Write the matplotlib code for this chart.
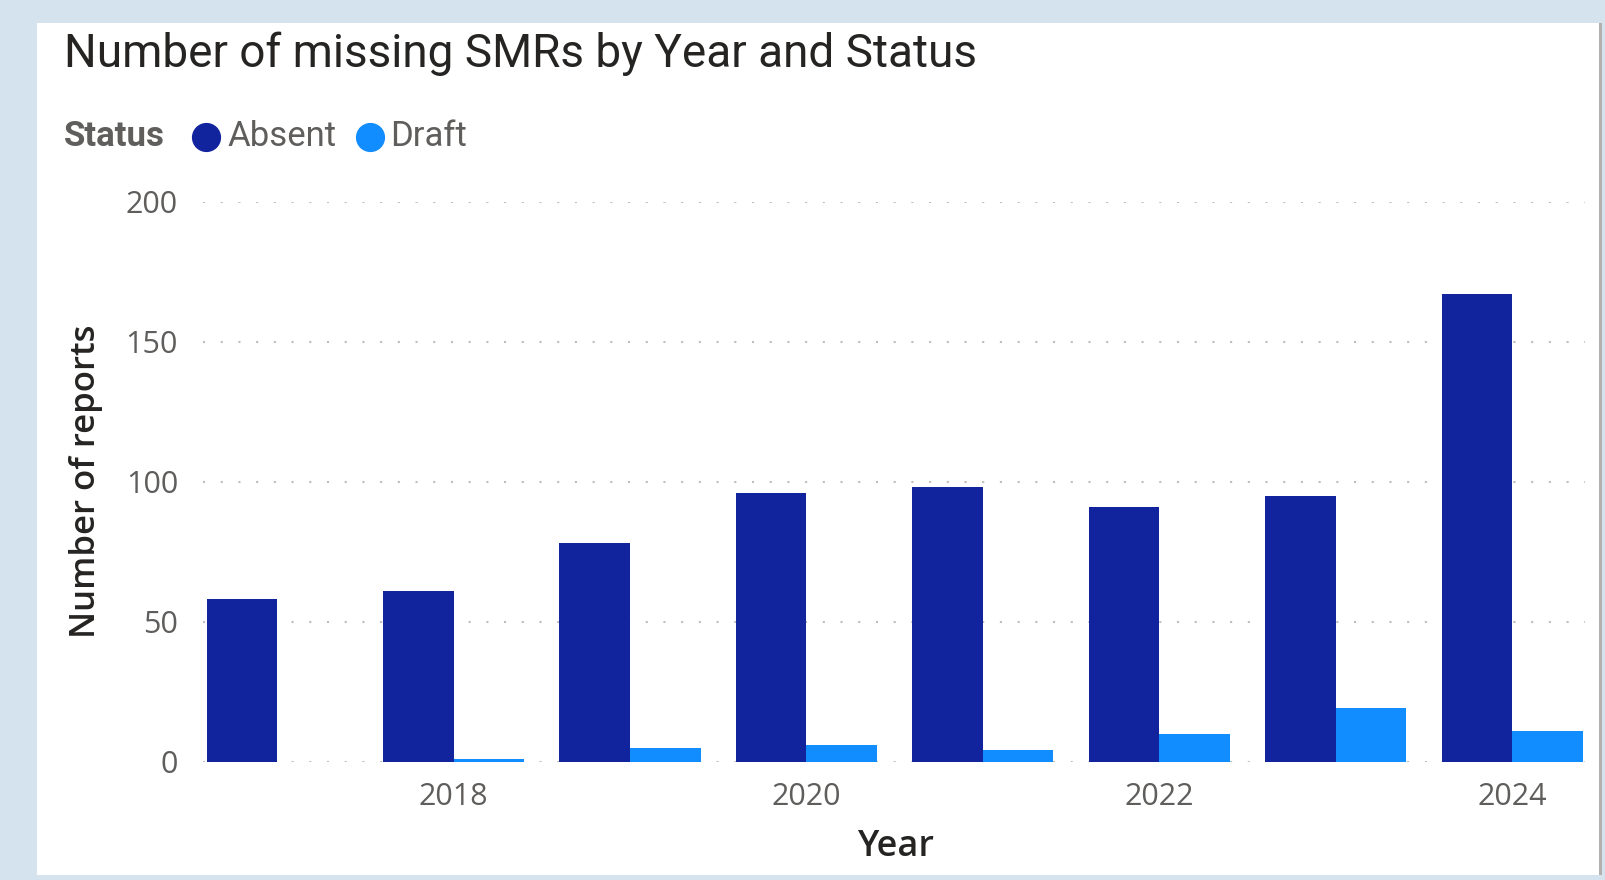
import matplotlib
matplotlib.use("Agg")
import matplotlib.pyplot as plt
from matplotlib.patches import Rectangle
from matplotlib.lines import Line2D
import numpy as np

years = [2017, 2018, 2019, 2020, 2021, 2022, 2023, 2024]
absent = [58, 61, 78, 96, 98, 91, 95, 167]
draft = [0, 1, 5, 6, 4, 10, 19, 11]
series_names = ["Absent", "Draft"]
series_colors = ["#12239E", "#118DFF"]
xticks = [2018, 2020, 2022, 2024]
yticks = [0, 50, 100, 150, 200]

W, H = 1605, 880
fig = plt.figure(figsize=(W / 100, H / 100), dpi=100)
fig.patch.set_facecolor("#D4E3ED")


def fx(x):
    return x / W


def fy(y):
    return 1 - y / H


# white card + right border line
fig.patches.append(Rectangle((fx(37), fy(875)), fx(1599) - fx(37), fy(23) - fy(875),
                             transform=fig.transFigure, facecolor="white", edgecolor="none", zorder=-2))
fig.patches.append(Rectangle((fx(1599), fy(875)), fx(3), fy(23) - fy(875),
                             transform=fig.transFigure, facecolor="#B3B0AD", edgecolor="none", zorder=-2))

ax_l, ax_b, ax_r, ax_t = 203, 761.6, 1584.5, 201.6
ax = fig.add_axes([fx(ax_l), fy(ax_b), fx(ax_r) - fx(ax_l), fy(ax_t) - fy(ax_b)])
ax.set_facecolor("none")
ax.set_zorder(2)

x = np.array(years)
w = 0.4
ax.bar(x - w / 2, absent, width=w, color=series_colors[0], zorder=3)
ax.bar(x + w / 2, draft, width=w, color=series_colors[1], zorder=3)

ax.set_xlim(2016.58, 2024.41)
ax.set_ylim(0, 200)
ax.set_yticks(yticks)
ax.set_xticks(xticks)
ax.yaxis.grid(True, color="#C0BEBC", linewidth=1.5, linestyle=(0, (1, 7.5)), zorder=0)
ax.set_axisbelow(True)
for s in ax.spines.values():
    s.set_visible(False)
ax.tick_params(axis="both", length=0, labelsize=22, labelcolor="#605E5C")
ax.tick_params(axis="y", pad=18)
ax.tick_params(axis="x", pad=15)
for lab in ax.get_xticklabels() + ax.get_yticklabels():
    lab.set_fontfamily("Open Sans")

ax.set_xlabel("Year", fontsize=26, fontweight="semibold", color="#252423", fontfamily="Open Sans")
ax.set_ylabel("Number of reports", fontsize=25, fontweight="semibold", color="#252423",
              fontfamily="Open Sans")
ax.xaxis.label.set_va("center")
ax.yaxis.label.set_va("center")
ax.xaxis.set_label_coords((896 - ax_l) / (ax_r - ax_l), (ax_b - 846.5) / (ax_b - ax_t))
ax.yaxis.set_label_coords((86 - ax_l) / (ax_r - ax_l), (ax_b - 481) / (ax_b - ax_t))

# title
fig.text(fx(64), fy(54), "Number of missing SMRs by Year and Status", fontsize=33,
         color="#252423", fontfamily="Roboto", va="center", ha="left")

# legend
fig.text(fx(64), fy(137), "Status", fontsize=25, fontweight="bold", color="#605E5C",
         fontfamily="Roboto", va="center", ha="left")
leg_x = [206, 369.5]
for name, col, mx in zip(series_names, series_colors, leg_x):
    fig.add_artist(Line2D([fx(mx)], [fy(137)], marker="o", markersize=20, color=col,
                          linestyle="none", transform=fig.transFigure))
    fig.text(fx(mx + 21), fy(137), name, fontsize=25, color="#605E5C",
             fontfamily="Roboto", va="center", ha="left")

fig.savefig("out.png", dpi=100, facecolor=fig.get_facecolor())
